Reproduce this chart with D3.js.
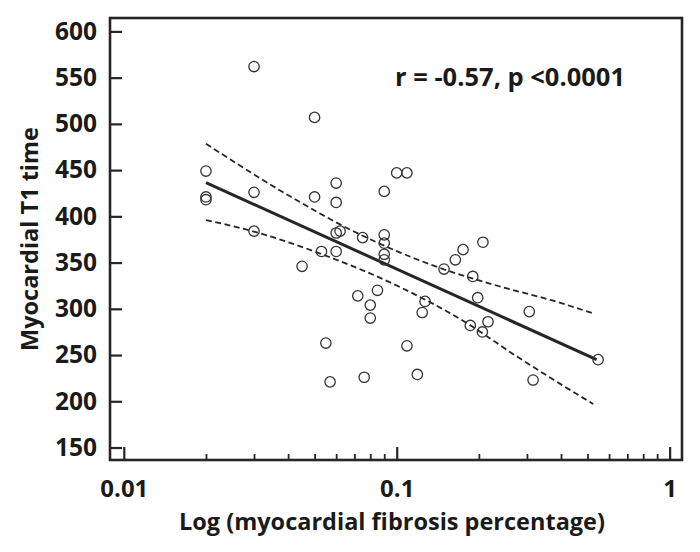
<!DOCTYPE html>
<html>
<head>
<meta charset="utf-8">
<script src="https://cdn.jsdelivr.net/npm/d3@7"></script>
<style>
  html, body { margin: 0; padding: 0; background: #fff; }
  svg text { font-family: "Open Sans", Lato, sans-serif; font-weight: bold; fill: #1a1a1a; }
</style>
</head>
<body>
<div id="chart"></div>
<script>
(function () {
  "use strict";

  // fibrosis fraction (x) and T1 time (y) of each patient
  const FIBROSIS = [
    0.03, 0.05, 0.02, 0.02, 0.02, 0.03, 0.05, 0.06, 0.06, 0.09,
    0.1, 0.109, 0.03, 0.06, 0.062, 0.075, 0.09, 0.09, 0.09, 0.09,
    0.053, 0.06, 0.045, 0.085, 0.072, 0.08, 0.08, 0.127, 0.124, 0.149,
    0.164, 0.175, 0.207, 0.19, 0.198, 0.306, 0.186, 0.216, 0.206, 0.055,
    0.109, 0.057, 0.076, 0.119, 0.316, 0.547
  ];
  const T1 = [
    562, 507, 449, 421, 418, 426, 421, 436, 415, 427,
    447, 447, 384, 382, 384, 377, 380, 371, 359, 353,
    362, 362, 346, 320, 314, 304, 290, 308, 296, 343,
    353, 364, 372, 335, 312, 297, 282, 286, 275, 263,
    260, 221, 226, 229, 223, 245
  ];

  // regression line ends
  const FIT_X = [0.02, 0.54];
  const FIT_Y = [436.5, 245];

  // confidence band, read at a few x positions
  const UPPER_X = [0.02, 0.0408, 0.0678, 0.103, 0.1486, 0.24, 0.366, 0.525];
  const UPPER_Y = [478.5, 421.4, 385.4, 360.8, 342.8, 324, 309.6, 295];
  const LOWER_X = [0.02, 0.0299, 0.054, 0.103, 0.181, 0.276, 0.377, 0.525];
  const LOWER_Y = [396, 383.6, 358.3, 323.4, 284.4, 248.3, 223, 197];

  const Y_TICKS = [150, 200, 250, 300, 350, 400, 450, 500, 550, 600];
  const X_MAJOR = [0.01, 0.1, 1];
  const X_MINOR = [0.02, 0.03, 0.04, 0.05, 0.06, 0.07, 0.08, 0.09,
                   0.2, 0.3, 0.4, 0.5, 0.6, 0.7, 0.8, 0.9];

  const width = 700, height = 552;
  const left = 110, right = 682, top = 18, bottom = 460;
  const ink = "#262626";

  const svg = d3.select("#chart").append("svg")
    .attr("width", width)
    .attr("height", height);

  const x = d3.scaleLog().domain([0.0089, 1.11]).range([left, right]);
  const y = d3.scaleLinear().domain([136.5, 614.5]).range([bottom, top]);

  // y axis, ticks pointing inwards
  const yAxis = svg.append("g")
    .attr("transform", `translate(${left},0)`)
    .call(d3.axisLeft(y).tickValues(Y_TICKS).tickSizeInner(-12).tickSizeOuter(0).tickPadding(13));
  yAxis.select(".domain").remove();
  yAxis.selectAll("line").attr("stroke", ink).attr("stroke-width", 2.2);
  yAxis.selectAll("text").attr("font-size", 24.5).attr("fill", ink);

  // x axis, major ticks with labels
  const xAxis = svg.append("g")
    .attr("transform", `translate(0,${bottom})`)
    .call(d3.axisBottom(x).tickValues(X_MAJOR).tickFormat(d3.format("~g"))
      .tickSizeInner(-13).tickSizeOuter(0).tickPadding(20));
  xAxis.select(".domain").remove();
  xAxis.selectAll("line").attr("stroke", ink).attr("stroke-width", 2.2);
  xAxis.selectAll("text").attr("font-size", 24).attr("fill", ink);

  // x axis, minor ticks
  const xMinor = svg.append("g")
    .attr("transform", `translate(0,${bottom})`)
    .call(d3.axisBottom(x).tickValues(X_MINOR).tickFormat("").tickSizeInner(-6).tickSizeOuter(0));
  xMinor.select(".domain").remove();
  xMinor.selectAll("line").attr("stroke", ink).attr("stroke-width", 1.8);

  // frame
  svg.append("rect")
    .attr("x", left).attr("y", top)
    .attr("width", right - left).attr("height", bottom - top)
    .attr("fill", "none")
    .attr("stroke", ink)
    .attr("stroke-width", 2.6);

  const line = d3.line()
    .x((d) => x(d[0]))
    .y((d) => y(d[1]))
    .curve(d3.curveMonotoneX);

  // confidence band
  [[UPPER_X, UPPER_Y], [LOWER_X, LOWER_Y]].forEach(([xs, ys]) => {
    svg.append("path")
      .attr("d", line(xs.map((v, i) => [v, ys[i]])))
      .attr("fill", "none")
      .attr("stroke", ink)
      .attr("stroke-width", 1.8)
      .attr("stroke-dasharray", "6,3.5");
  });

  // regression line
  svg.append("path")
    .attr("d", d3.line().x((d) => x(d[0])).y((d) => y(d[1]))(FIT_X.map((v, i) => [v, FIT_Y[i]])))
    .attr("fill", "none")
    .attr("stroke", ink)
    .attr("stroke-width", 3);

  // points
  svg.append("g").selectAll("circle")
    .data(FIBROSIS.map((v, i) => ({ f: v, t: T1[i] })))
    .join("circle")
    .attr("cx", (d) => x(d.f))
    .attr("cy", (d) => y(d.t))
    .attr("r", 5.2)
    .attr("fill", "none")
    .attr("stroke", "#333")
    .attr("stroke-width", 1.3);

  // correlation note
  svg.append("text")
    .attr("x", 395)
    .attr("y", 86)
    .attr("font-size", 25.5)
    .text("r = -0.57, p <0.0001");

  // axis titles
  svg.append("text")
    .attr("x", 392)
    .attr("y", 530)
    .attr("text-anchor", "middle")
    .attr("font-size", 23.5)
    .text("Log (myocardial fibrosis percentage)");

  svg.append("text")
    .attr("transform", `translate(38,${(top + bottom) / 2}) rotate(-90)`)
    .attr("text-anchor", "middle")
    .attr("font-size", 23.5)
    .text("Myocardial T1 time");
})();
</script>
</body>
</html>
